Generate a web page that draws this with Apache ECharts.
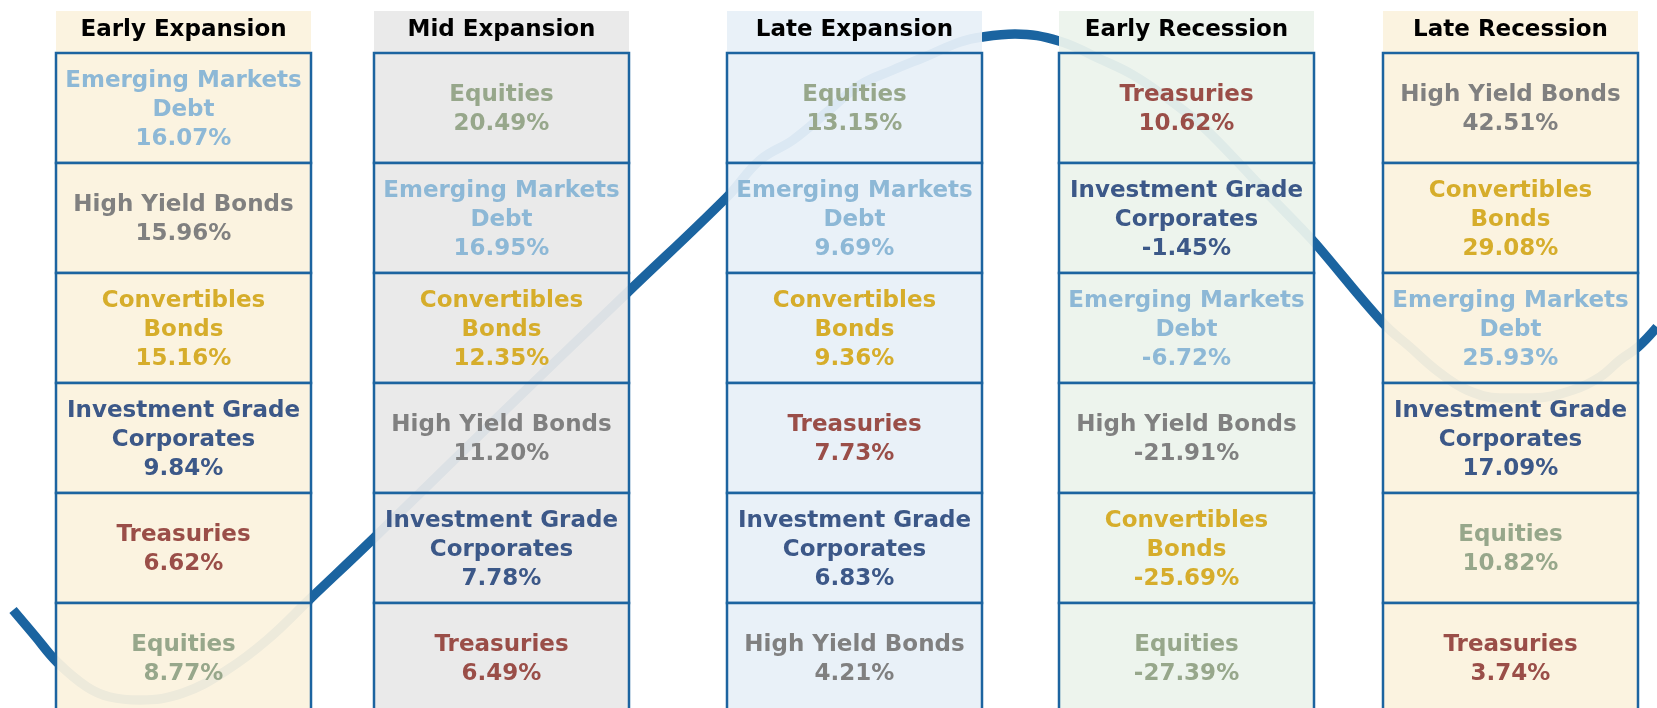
<!DOCTYPE html>
<html>
<head>
<meta charset="utf-8">
<script src="https://cdn.jsdelivr.net/npm/echarts@6/dist/echarts.min.js"></script>
<style>
  html, body { margin: 0; padding: 0; background: #fff; }
  #chart { width: 1657px; height: 708px; }
</style>
</head>
<body>
<div id="chart"></div>
<script>
// phases of the cycle, left to right
const phases = ['Early Expansion', 'Mid Expansion', 'Late Expansion', 'Early Recession', 'Late Recession'];

// ranked asset classes and their returns (%) per phase, top to bottom
const earlyExpAssets = ['Emerging Markets Debt', 'High Yield Bonds', 'Convertibles Bonds', 'Investment Grade Corporates', 'Treasuries', 'Equities'];
const earlyExpReturns = [16.07, 15.96, 15.16, 9.84, 6.62, 8.77];

const midExpAssets = ['Equities', 'Emerging Markets Debt', 'Convertibles Bonds', 'High Yield Bonds', 'Investment Grade Corporates', 'Treasuries'];
const midExpReturns = [20.49, 16.95, 12.35, 11.20, 7.78, 6.49];

const lateExpAssets = ['Equities', 'Emerging Markets Debt', 'Convertibles Bonds', 'Treasuries', 'Investment Grade Corporates', 'High Yield Bonds'];
const lateExpReturns = [13.15, 9.69, 9.36, 7.73, 6.83, 4.21];

const earlyRecAssets = ['Treasuries', 'Investment Grade Corporates', 'Emerging Markets Debt', 'High Yield Bonds', 'Convertibles Bonds', 'Equities'];
const earlyRecReturns = [10.62, -1.45, -6.72, -21.91, -25.69, -27.39];

const lateRecAssets = ['High Yield Bonds', 'Convertibles Bonds', 'Emerging Markets Debt', 'Investment Grade Corporates', 'Equities', 'Treasuries'];
const lateRecReturns = [42.51, 29.08, 25.93, 17.09, 10.82, 3.74];

// business cycle curve (page pixels)
const curveX = [13, 35, 57, 87, 110, 140, 183, 227, 267, 311, 374, 500, 628, 727, 760, 793, 827, 860, 893, 927, 960, 982, 1015, 1059, 1100, 1133, 1167, 1200, 1233, 1267, 1300, 1315, 1383, 1410, 1440, 1467, 1500, 1533, 1573, 1600, 1620, 1638, 1657];
const curveY = [610, 636, 662, 687, 697, 700, 693, 670, 640, 598, 538, 415, 292, 197, 160, 140, 112, 85, 70, 56, 42, 37, 34, 41, 59, 75, 98, 124, 157, 193, 227, 243, 323, 347, 373, 390, 398, 398, 390, 377, 360, 347, 327];

const phaseAssets = [earlyExpAssets, midExpAssets, lateExpAssets, earlyRecAssets, lateRecAssets];
const phaseReturns = [earlyExpReturns, midExpReturns, lateExpReturns, earlyRecReturns, lateRecReturns];

// layout
const colLeft = [56, 374, 727, 1059, 1383];
const colW = 255;
const headTop = 11, headBottom = 52;
const rowTop = 53, rowH = 110;
const phaseFill = [
  'rgba(251,242,222,0.94)',
  'rgba(233,233,233,0.94)',
  'rgba(232,240,248,0.94)',
  'rgba(236,243,236,0.94)',
  'rgba(251,242,222,0.94)'
];
const assetColor = {
  'Emerging Markets Debt': '#8db8d6',
  'High Yield Bonds': '#808080',
  'Convertibles Bonds': '#d6ad2b',
  'Investment Grade Corporates': '#3c5888',
  'Treasuries': '#9a4e48',
  'Equities': '#97a78b'
};
const assetLabel = {
  'Emerging Markets Debt': 'Emerging Markets\nDebt',
  'Convertibles Bonds': 'Convertibles\nBonds',
  'Investment Grade Corporates': 'Investment Grade\nCorporates'
};
const FONT = '"DejaVu Sans", Verdana, sans-serif';
const borderColor = '#1c64a0';

const cellData = [];
phaseAssets.forEach((list, p) => list.forEach((_, r) => cellData.push([p, r])));

const chart = echarts.init(document.getElementById('chart'));

const option = {
  animation: false,
  backgroundColor: '#ffffff',
  grid: { left: 0, right: 0, top: 0, bottom: 0 },
  xAxis: { type: 'value', min: 0, max: 1657, show: false },
  yAxis: { type: 'value', min: 0, max: 708, inverse: true, show: false },
  series: [
    {
      type: 'line',
      z: 1,
      data: curveX.map((x, i) => [x, curveY[i]]),
      smooth: 0.4,
      showSymbol: false,
      lineStyle: { color: '#1b64a0', width: 9.5, cap: 'butt' }
    },
    {
      // phase headers
      type: 'custom',
      z: 3,
      data: phases.map((_, p) => [p]),
      renderItem: (params, api) => {
        const p = api.value(0);
        const a = api.coord([colLeft[p], headTop]);
        const b = api.coord([colLeft[p] + colW, headBottom]);
        return {
          type: 'group',
          children: [
            {
              type: 'rect',
              shape: { x: a[0], y: a[1], width: b[0] - a[0], height: b[1] - a[1] },
              style: { fill: phaseFill[p] }
            },
            {
              type: 'text',
              x: (a[0] + b[0]) / 2,
              y: (a[1] + b[1]) / 2 - 1,
              style: {
                text: phases[p],
                fill: '#000000',
                font: 'bold 23px ' + FONT,
                align: 'center',
                verticalAlign: 'middle'
              }
            }
          ]
        };
      }
    },
    {
      // ranked cells
      type: 'custom',
      z: 3,
      data: cellData,
      renderItem: (params, api) => {
        const p = api.value(0);
        const r = api.value(1);
        const name = phaseAssets[p][r];
        const val = phaseReturns[p][r];
        const a = api.coord([colLeft[p], rowTop + r * rowH]);
        const b = api.coord([colLeft[p] + colW, rowTop + (r + 1) * rowH]);
        return {
          type: 'group',
          children: [
            {
              type: 'rect',
              shape: { x: a[0], y: a[1], width: b[0] - a[0], height: b[1] - a[1] },
              style: { fill: phaseFill[p], stroke: borderColor, lineWidth: 2.5 }
            },
            {
              type: 'text',
              x: (a[0] + b[0]) / 2,
              y: (a[1] + b[1]) / 2 + 2,
              style: {
                text: (assetLabel[name] || name) + '\n' + val.toFixed(2) + '%',
                fill: assetColor[name],
                font: 'bold 23px ' + FONT,
                lineHeight: 29,
                align: 'center',
                verticalAlign: 'middle'
              }
            }
          ]
        };
      }
    }
  ]
};

chart.setOption(option);
window.addEventListener('resize', () => chart.resize());
</script>
</body>
</html>
